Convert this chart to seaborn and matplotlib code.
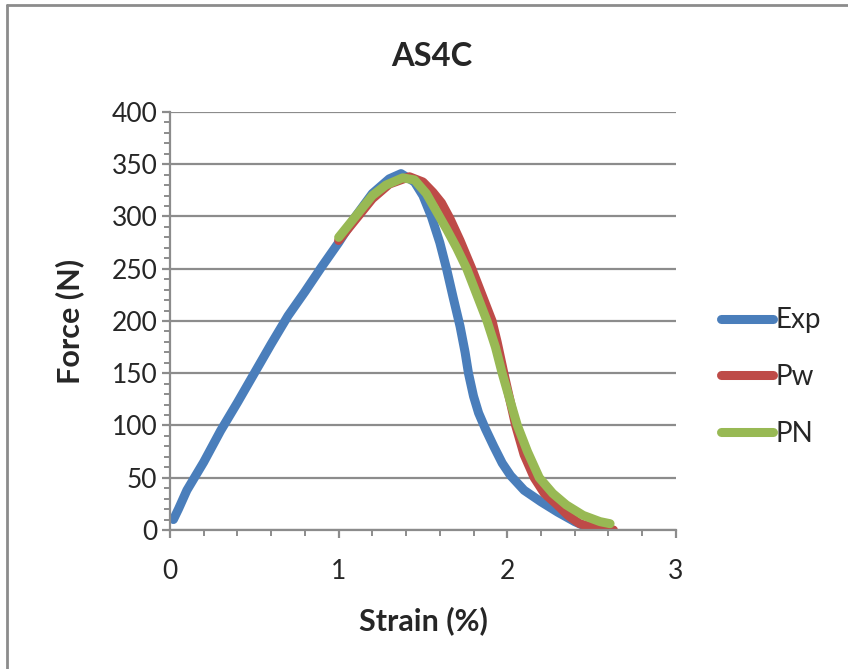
import numpy as np
import pandas as pd
import seaborn as sns
import matplotlib.pyplot as plt
from matplotlib.lines import Line2D
from matplotlib.ticker import MultipleLocator

#### Data

exp_strain = [0.02, 0.05, 0.1, 0.2, 0.3, 0.4, 0.5, 0.6, 0.7, 0.8, 0.9, 1.0, 1.1,
              1.2, 1.3, 1.37, 1.45, 1.5, 1.55, 1.6, 1.64, 1.68, 1.72, 1.75, 1.77,
              1.8, 1.83, 1.87, 1.92, 1.97, 2.02, 2.1, 2.2, 2.3, 2.4, 2.47, 2.52]
exp_force = [10, 20, 38, 65, 95, 122, 150, 178, 205, 228, 252, 275, 300,
             322, 336, 341, 333, 320, 300, 275, 250, 222, 195, 170, 150,
             128, 112, 97, 80, 64, 52, 38, 27, 17, 8, 3, 1]

pw_strain = [1.0, 1.1, 1.2, 1.3, 1.42, 1.5, 1.56, 1.61, 1.66, 1.72, 1.79, 1.85,
             1.91, 1.94, 1.98, 2.05, 2.1, 2.16, 2.22, 2.29, 2.36, 2.43, 2.52, 2.63]
pw_force = [277, 297, 317, 331, 338, 333, 323, 313, 298, 277, 250, 225,
            200, 180, 150, 100, 72, 50, 35, 25, 14, 6, 2, 0]

pn_strain = [1.0, 1.1, 1.2, 1.28, 1.38, 1.45, 1.52, 1.58, 1.64, 1.7, 1.76, 1.82,
             1.88, 1.93, 1.97, 2.02, 2.06, 2.12, 2.19, 2.27, 2.35, 2.45, 2.55, 2.61]
pn_force = [280, 300, 320, 330, 337, 335, 322, 305, 288, 270, 250, 225,
            200, 175, 150, 122, 100, 75, 50, 35, 24, 14, 8, 6]

series = ['Exp', 'Pw', 'PN']
colors = ['#4A7EBB', '#BE4B48', '#98B954']

df = pd.concat([
    pd.DataFrame({'strain': exp_strain, 'force': exp_force, 'series': 'Exp'}),
    pd.DataFrame({'strain': pw_strain, 'force': pw_force, 'series': 'Pw'}),
    pd.DataFrame({'strain': pn_strain, 'force': pn_force, 'series': 'PN'}),
], ignore_index=True)

#### Plot

sns.set_style("white")
plt.rcParams['font.family'] = ['Lato', 'DejaVu Sans']

fig = plt.figure(figsize=(8.48, 6.69), dpi=100, facecolor='white')
ax = fig.add_axes([0.2005, 0.2078, 0.5965, 0.6248])

sns.lineplot(data=df, x='strain', y='force', hue='series', hue_order=series,
             palette=colors, sort=False, estimator=None, linewidth=6.5,
             solid_capstyle='round', solid_joinstyle='round', legend=False, ax=ax)

ax.set_xlim(0, 3)
ax.set_ylim(0, 400)
ax.xaxis.set_major_locator(MultipleLocator(1))
ax.xaxis.set_minor_locator(MultipleLocator(0.2))
ax.yaxis.set_major_locator(MultipleLocator(50))
ax.yaxis.set_minor_locator(MultipleLocator(10))

ax.grid(axis='y', which='major', color='#8C8C8C', linewidth=1.6)
ax.set_axisbelow(True)
sns.despine(ax=ax)
for s in ['left', 'bottom']:
    ax.spines[s].set_color('#8C8C8C')
    ax.spines[s].set_linewidth(1.6)

ax.tick_params(which='major', direction='out', length=6, width=1.6,
               color='#8C8C8C', labelsize=19, pad=3, left=True, bottom=True)
ax.tick_params(which='minor', direction='out', length=4, width=1.4,
               color='#8C8C8C', left=True, bottom=True)
ax.tick_params(axis='x', which='major', pad=15)

ax.set_xlabel('Strain (%)', fontsize=22, fontweight='bold', labelpad=16)
ax.set_ylabel('Force (N)', fontsize=22, fontweight='bold', labelpad=20)
fig.text(0.509, 0.916, 'AS4C', fontsize=23.5, fontweight='bold',
         ha='center', va='center')

handles = [Line2D([], [], color=c, linewidth=6.5, solid_capstyle='round')
           for c in colors]
fig.legend(handles, series, loc='center left', bbox_to_anchor=(0.821, 0.4365),
           frameon=False, fontsize=20, handlelength=1.85, handletextpad=0.12,
           labelspacing=1.1)

# chart area border (top and left edges only)
fig.add_artist(Line2D([7 / 848, 1], [1 - 5 / 669, 1 - 5 / 669],
                      transform=fig.transFigure, color='#8C8C8C', linewidth=2))
fig.add_artist(Line2D([7 / 848, 7 / 848], [0, 1 - 5 / 669],
                      transform=fig.transFigure, color='#8C8C8C', linewidth=2))

plt.savefig('out.png', dpi=100, facecolor='white')
